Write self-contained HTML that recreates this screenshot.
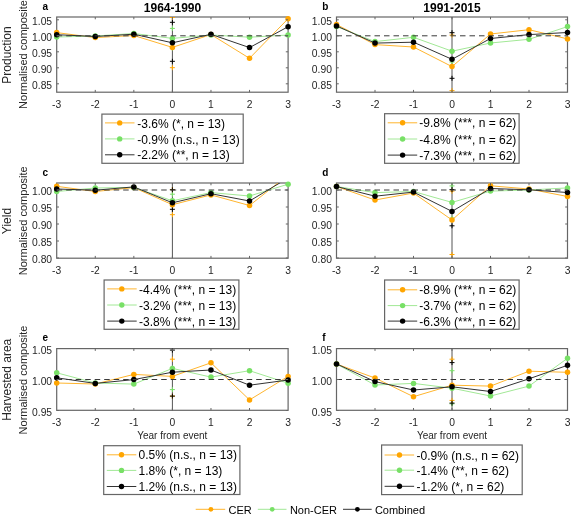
<!DOCTYPE html><html><head><meta charset="utf-8"><style>html,body{margin:0;padding:0;background:#fff;overflow:hidden;width:575px;height:518px;}svg{display:block;filter:blur(0.4px);}text{font-family:"Liberation Sans",sans-serif;}</style></head><body>
<svg width="575" height="518" viewBox="0 0 575 518">
<rect width="575" height="518" fill="#fff"/>
<defs>
<clipPath id="cpa"><rect x="56.7" y="17.0" width="231.40000000000003" height="75.2"/></clipPath>
<clipPath id="cpb"><rect x="336.5" y="17.0" width="231.0" height="75.2"/></clipPath>
<clipPath id="cpc"><rect x="56.7" y="183.0" width="231.40000000000003" height="75.19999999999999"/></clipPath>
<clipPath id="cpd"><rect x="336.5" y="183.0" width="231.0" height="75.19999999999999"/></clipPath>
<clipPath id="cpe"><rect x="56.7" y="348.6" width="231.40000000000003" height="61.69999999999999"/></clipPath>
<clipPath id="cpf"><rect x="336.5" y="348.6" width="231.0" height="61.69999999999999"/></clipPath>
</defs>
<rect x="56.7" y="17.0" width="231.40000000000003" height="75.2" fill="none" stroke="#666" stroke-width="1.2"/>
<line x1="172.4" y1="17.0" x2="172.4" y2="92.2" stroke="#555" stroke-width="1"/>
<g clip-path="url(#cpa)">
<path d="M169.9 28.4h5M172.4 25.9v5" stroke="#78E066" stroke-width="1"/>
<path d="M169.9 48.0h5M172.4 45.5v5" stroke="#78E066" stroke-width="1"/>
<path d="M169.9 17.4h5M172.4 14.899999999999999v5" stroke="#FFA500" stroke-width="1"/>
<path d="M169.9 67.7h5M172.4 65.2v5" stroke="#FFA500" stroke-width="1"/>
<path d="M169.9 22.3h5M172.4 19.8v5" stroke="#000" stroke-width="1"/>
<path d="M169.9 61.3h5M172.4 58.8v5" stroke="#000" stroke-width="1"/>
</g>
<polyline clip-path="url(#cpa)" points="56.70,32.60 95.27,37.60 133.83,35.50 172.40,47.40 210.97,34.50 249.53,58.30 288.10,18.70" fill="none" stroke="#FFB52E" stroke-width="1"/>
<circle cx="56.70" cy="32.60" r="2.75" fill="#FFA500"/>
<circle cx="95.27" cy="37.60" r="2.75" fill="#FFA500"/>
<circle cx="133.83" cy="35.50" r="2.75" fill="#FFA500"/>
<circle cx="172.40" cy="47.40" r="2.75" fill="#FFA500"/>
<circle cx="210.97" cy="34.50" r="2.75" fill="#FFA500"/>
<circle cx="249.53" cy="58.30" r="2.75" fill="#FFA500"/>
<circle cx="288.10" cy="18.70" r="2.75" fill="#FFA500"/>
<polyline clip-path="url(#cpa)" points="56.70,37.00 95.27,36.00 133.83,33.50 172.40,38.40 210.97,35.00 249.53,37.20 288.10,35.00" fill="none" stroke="#A2E896" stroke-width="1"/>
<circle cx="56.70" cy="37.00" r="2.75" fill="#78E066"/>
<circle cx="95.27" cy="36.00" r="2.75" fill="#78E066"/>
<circle cx="133.83" cy="33.50" r="2.75" fill="#78E066"/>
<circle cx="172.40" cy="38.40" r="2.75" fill="#78E066"/>
<circle cx="210.97" cy="35.00" r="2.75" fill="#78E066"/>
<circle cx="249.53" cy="37.20" r="2.75" fill="#78E066"/>
<circle cx="288.10" cy="35.00" r="2.75" fill="#78E066"/>
<polyline clip-path="url(#cpa)" points="56.70,34.70 95.27,36.50 133.83,34.20 172.40,42.80 210.97,34.30 249.53,47.60 288.10,26.70" fill="none" stroke="#333" stroke-width="1"/>
<circle cx="56.70" cy="34.70" r="2.75" fill="#000"/>
<circle cx="95.27" cy="36.50" r="2.75" fill="#000"/>
<circle cx="133.83" cy="34.20" r="2.75" fill="#000"/>
<circle cx="172.40" cy="42.80" r="2.75" fill="#000"/>
<circle cx="210.97" cy="34.30" r="2.75" fill="#000"/>
<circle cx="249.53" cy="47.60" r="2.75" fill="#000"/>
<circle cx="288.10" cy="26.70" r="2.75" fill="#000"/>
<line x1="56.7" y1="35.8" x2="288.1" y2="35.8" stroke="#3a3a3a" stroke-width="1" stroke-dasharray="5.5,4"/>
<path d="M95.27 92.2v-2.3M95.27 17.0v2.3" stroke="#666" stroke-width="1"/>
<path d="M133.83 92.2v-2.3M133.83 17.0v2.3" stroke="#666" stroke-width="1"/>
<path d="M172.40 92.2v-2.3M172.40 17.0v2.3" stroke="#666" stroke-width="1"/>
<path d="M210.97 92.2v-2.3M210.97 17.0v2.3" stroke="#666" stroke-width="1"/>
<path d="M249.53 92.2v-2.3M249.53 17.0v2.3" stroke="#666" stroke-width="1"/>
<path d="M56.7 19.80h2.3M288.1 19.80h-2.3" stroke="#666" stroke-width="1"/>
<text x="52.1" y="25.00" font-size="10.3" text-anchor="end" fill="#262626">1.05</text>
<path d="M56.7 35.80h2.3M288.1 35.80h-2.3" stroke="#666" stroke-width="1"/>
<text x="52.1" y="41.00" font-size="10.3" text-anchor="end" fill="#262626">1.00</text>
<path d="M56.7 51.80h2.3M288.1 51.80h-2.3" stroke="#666" stroke-width="1"/>
<text x="52.1" y="57.00" font-size="10.3" text-anchor="end" fill="#262626">0.95</text>
<path d="M56.7 67.80h2.3M288.1 67.80h-2.3" stroke="#666" stroke-width="1"/>
<text x="52.1" y="73.00" font-size="10.3" text-anchor="end" fill="#262626">0.90</text>
<path d="M56.7 83.80h2.3M288.1 83.80h-2.3" stroke="#666" stroke-width="1"/>
<text x="52.1" y="89.00" font-size="10.3" text-anchor="end" fill="#262626">0.85</text>
<text x="56.70" y="107.50" font-size="10.3" text-anchor="middle" fill="#262626">-3</text>
<text x="95.27" y="107.50" font-size="10.3" text-anchor="middle" fill="#262626">-2</text>
<text x="133.83" y="107.50" font-size="10.3" text-anchor="middle" fill="#262626">-1</text>
<text x="172.40" y="107.50" font-size="10.3" text-anchor="middle" fill="#262626">0</text>
<text x="210.97" y="107.50" font-size="10.3" text-anchor="middle" fill="#262626">1</text>
<text x="249.53" y="107.50" font-size="10.3" text-anchor="middle" fill="#262626">2</text>
<text x="288.10" y="107.50" font-size="10.3" text-anchor="middle" fill="#262626">3</text>
<text x="42.5" y="9.6" font-size="10" font-weight="bold" fill="#000">a</text>
<rect x="336.5" y="17.0" width="231.0" height="75.2" fill="none" stroke="#666" stroke-width="1.2"/>
<line x1="452.0" y1="17.0" x2="452.0" y2="92.2" stroke="#555" stroke-width="1"/>
<g clip-path="url(#cpb)">
<path d="M449.5 51.2h5M452.0 48.7v5" stroke="#78E066" stroke-width="1"/>
<path d="M449.5 62.0h5M452.0 59.5v5" stroke="#78E066" stroke-width="1"/>
<path d="M449.5 35.1h5M452.0 32.6v5" stroke="#FFA500" stroke-width="1"/>
<path d="M449.5 90.6h5M452.0 88.1v5" stroke="#FFA500" stroke-width="1"/>
<path d="M449.5 32.7h5M452.0 30.200000000000003v5" stroke="#000" stroke-width="1"/>
<path d="M449.5 78.3h5M452.0 75.8v5" stroke="#000" stroke-width="1"/>
</g>
<polyline clip-path="url(#cpb)" points="336.50,24.50 375.00,44.60 413.50,47.00 452.00,66.60 490.50,34.00 529.00,29.70 567.50,38.90" fill="none" stroke="#FFB52E" stroke-width="1"/>
<circle cx="336.50" cy="24.50" r="2.75" fill="#FFA500"/>
<circle cx="375.00" cy="44.60" r="2.75" fill="#FFA500"/>
<circle cx="413.50" cy="47.00" r="2.75" fill="#FFA500"/>
<circle cx="452.00" cy="66.60" r="2.75" fill="#FFA500"/>
<circle cx="490.50" cy="34.00" r="2.75" fill="#FFA500"/>
<circle cx="529.00" cy="29.70" r="2.75" fill="#FFA500"/>
<circle cx="567.50" cy="38.90" r="2.75" fill="#FFA500"/>
<polyline clip-path="url(#cpb)" points="336.50,26.50 375.00,41.60 413.50,37.30 452.00,51.20 490.50,43.00 529.00,39.30 567.50,26.60" fill="none" stroke="#A2E896" stroke-width="1"/>
<circle cx="336.50" cy="26.50" r="2.75" fill="#78E066"/>
<circle cx="375.00" cy="41.60" r="2.75" fill="#78E066"/>
<circle cx="413.50" cy="37.30" r="2.75" fill="#78E066"/>
<circle cx="452.00" cy="51.20" r="2.75" fill="#78E066"/>
<circle cx="490.50" cy="43.00" r="2.75" fill="#78E066"/>
<circle cx="529.00" cy="39.30" r="2.75" fill="#78E066"/>
<circle cx="567.50" cy="26.60" r="2.75" fill="#78E066"/>
<polyline clip-path="url(#cpb)" points="336.50,25.90 375.00,43.10 413.50,42.20 452.00,59.30 490.50,38.50 529.00,34.60 567.50,32.50" fill="none" stroke="#333" stroke-width="1"/>
<circle cx="336.50" cy="25.90" r="2.75" fill="#000"/>
<circle cx="375.00" cy="43.10" r="2.75" fill="#000"/>
<circle cx="413.50" cy="42.20" r="2.75" fill="#000"/>
<circle cx="452.00" cy="59.30" r="2.75" fill="#000"/>
<circle cx="490.50" cy="38.50" r="2.75" fill="#000"/>
<circle cx="529.00" cy="34.60" r="2.75" fill="#000"/>
<circle cx="567.50" cy="32.50" r="2.75" fill="#000"/>
<line x1="336.5" y1="35.8" x2="567.5" y2="35.8" stroke="#3a3a3a" stroke-width="1" stroke-dasharray="5.5,4"/>
<path d="M375.00 92.2v-2.3M375.00 17.0v2.3" stroke="#666" stroke-width="1"/>
<path d="M413.50 92.2v-2.3M413.50 17.0v2.3" stroke="#666" stroke-width="1"/>
<path d="M452.00 92.2v-2.3M452.00 17.0v2.3" stroke="#666" stroke-width="1"/>
<path d="M490.50 92.2v-2.3M490.50 17.0v2.3" stroke="#666" stroke-width="1"/>
<path d="M529.00 92.2v-2.3M529.00 17.0v2.3" stroke="#666" stroke-width="1"/>
<path d="M336.5 19.80h2.3M567.5 19.80h-2.3" stroke="#666" stroke-width="1"/>
<text x="331.9" y="25.00" font-size="10.3" text-anchor="end" fill="#262626">1.05</text>
<path d="M336.5 35.80h2.3M567.5 35.80h-2.3" stroke="#666" stroke-width="1"/>
<text x="331.9" y="41.00" font-size="10.3" text-anchor="end" fill="#262626">1.00</text>
<path d="M336.5 51.80h2.3M567.5 51.80h-2.3" stroke="#666" stroke-width="1"/>
<text x="331.9" y="57.00" font-size="10.3" text-anchor="end" fill="#262626">0.95</text>
<path d="M336.5 67.80h2.3M567.5 67.80h-2.3" stroke="#666" stroke-width="1"/>
<text x="331.9" y="73.00" font-size="10.3" text-anchor="end" fill="#262626">0.90</text>
<path d="M336.5 83.80h2.3M567.5 83.80h-2.3" stroke="#666" stroke-width="1"/>
<text x="331.9" y="89.00" font-size="10.3" text-anchor="end" fill="#262626">0.85</text>
<text x="336.50" y="107.50" font-size="10.3" text-anchor="middle" fill="#262626">-3</text>
<text x="375.00" y="107.50" font-size="10.3" text-anchor="middle" fill="#262626">-2</text>
<text x="413.50" y="107.50" font-size="10.3" text-anchor="middle" fill="#262626">-1</text>
<text x="452.00" y="107.50" font-size="10.3" text-anchor="middle" fill="#262626">0</text>
<text x="490.50" y="107.50" font-size="10.3" text-anchor="middle" fill="#262626">1</text>
<text x="529.00" y="107.50" font-size="10.3" text-anchor="middle" fill="#262626">2</text>
<text x="567.50" y="107.50" font-size="10.3" text-anchor="middle" fill="#262626">3</text>
<text x="322.3" y="9.6" font-size="10" font-weight="bold" fill="#000">b</text>
<rect x="56.7" y="183.0" width="231.40000000000003" height="75.19999999999999" fill="none" stroke="#666" stroke-width="1.2"/>
<line x1="172.4" y1="183.0" x2="172.4" y2="258.2" stroke="#555" stroke-width="1"/>
<g clip-path="url(#cpc)">
<path d="M169.9 194.2h5M172.4 191.7v5" stroke="#78E066" stroke-width="1"/>
<path d="M169.9 203.0h5M172.4 200.5v5" stroke="#78E066" stroke-width="1"/>
<path d="M169.9 189.6h5M172.4 187.1v5" stroke="#FFA500" stroke-width="1"/>
<path d="M169.9 214.7h5M172.4 212.2v5" stroke="#FFA500" stroke-width="1"/>
<path d="M169.9 189.8h5M172.4 187.3v5" stroke="#000" stroke-width="1"/>
<path d="M169.9 209.3h5M172.4 206.8v5" stroke="#000" stroke-width="1"/>
</g>
<polyline clip-path="url(#cpc)" points="56.70,186.30 95.27,191.50 133.83,187.60 172.40,204.70 210.97,194.90 249.53,205.50 288.10,175.00" fill="none" stroke="#FFB52E" stroke-width="1"/>
<circle cx="56.70" cy="186.30" r="2.75" fill="#FFA500"/>
<circle cx="95.27" cy="191.50" r="2.75" fill="#FFA500"/>
<circle cx="133.83" cy="187.60" r="2.75" fill="#FFA500"/>
<circle cx="172.40" cy="204.70" r="2.75" fill="#FFA500"/>
<circle cx="210.97" cy="194.90" r="2.75" fill="#FFA500"/>
<circle cx="249.53" cy="205.50" r="2.75" fill="#FFA500"/>
<polyline clip-path="url(#cpc)" points="56.70,191.50 95.27,188.00 133.83,187.40 172.40,200.80 210.97,192.60 249.53,196.00 288.10,184.20" fill="none" stroke="#A2E896" stroke-width="1"/>
<circle cx="56.70" cy="191.50" r="2.75" fill="#78E066"/>
<circle cx="95.27" cy="188.00" r="2.75" fill="#78E066"/>
<circle cx="133.83" cy="187.40" r="2.75" fill="#78E066"/>
<circle cx="172.40" cy="200.80" r="2.75" fill="#78E066"/>
<circle cx="210.97" cy="192.60" r="2.75" fill="#78E066"/>
<circle cx="249.53" cy="196.00" r="2.75" fill="#78E066"/>
<circle cx="288.10" cy="184.20" r="2.75" fill="#78E066"/>
<polyline clip-path="url(#cpc)" points="56.70,189.00 95.27,190.20 133.83,186.90 172.40,202.80 210.97,193.70 249.53,201.00 288.10,178.00" fill="none" stroke="#333" stroke-width="1"/>
<circle cx="56.70" cy="189.00" r="2.75" fill="#000"/>
<circle cx="95.27" cy="190.20" r="2.75" fill="#000"/>
<circle cx="133.83" cy="186.90" r="2.75" fill="#000"/>
<circle cx="172.40" cy="202.80" r="2.75" fill="#000"/>
<circle cx="210.97" cy="193.70" r="2.75" fill="#000"/>
<circle cx="249.53" cy="201.00" r="2.75" fill="#000"/>
<line x1="56.7" y1="190.0" x2="288.1" y2="190.0" stroke="#3a3a3a" stroke-width="1" stroke-dasharray="5.5,4"/>
<path d="M95.27 258.2v-2.3M95.27 183.0v2.3" stroke="#666" stroke-width="1"/>
<path d="M133.83 258.2v-2.3M133.83 183.0v2.3" stroke="#666" stroke-width="1"/>
<path d="M172.40 258.2v-2.3M172.40 183.0v2.3" stroke="#666" stroke-width="1"/>
<path d="M210.97 258.2v-2.3M210.97 183.0v2.3" stroke="#666" stroke-width="1"/>
<path d="M249.53 258.2v-2.3M249.53 183.0v2.3" stroke="#666" stroke-width="1"/>
<path d="M56.7 190.00h2.3M288.1 190.00h-2.3" stroke="#666" stroke-width="1"/>
<text x="52.1" y="195.20" font-size="10.3" text-anchor="end" fill="#262626">1.00</text>
<path d="M56.7 207.00h2.3M288.1 207.00h-2.3" stroke="#666" stroke-width="1"/>
<text x="52.1" y="212.20" font-size="10.3" text-anchor="end" fill="#262626">0.95</text>
<path d="M56.7 224.00h2.3M288.1 224.00h-2.3" stroke="#666" stroke-width="1"/>
<text x="52.1" y="229.20" font-size="10.3" text-anchor="end" fill="#262626">0.90</text>
<path d="M56.7 241.00h2.3M288.1 241.00h-2.3" stroke="#666" stroke-width="1"/>
<text x="52.1" y="246.20" font-size="10.3" text-anchor="end" fill="#262626">0.85</text>
<path d="M56.7 258.00h2.3M288.1 258.00h-2.3" stroke="#666" stroke-width="1"/>
<text x="52.1" y="263.20" font-size="10.3" text-anchor="end" fill="#262626">0.80</text>
<text x="56.70" y="273.50" font-size="10.3" text-anchor="middle" fill="#262626">-3</text>
<text x="95.27" y="273.50" font-size="10.3" text-anchor="middle" fill="#262626">-2</text>
<text x="133.83" y="273.50" font-size="10.3" text-anchor="middle" fill="#262626">-1</text>
<text x="172.40" y="273.50" font-size="10.3" text-anchor="middle" fill="#262626">0</text>
<text x="210.97" y="273.50" font-size="10.3" text-anchor="middle" fill="#262626">1</text>
<text x="249.53" y="273.50" font-size="10.3" text-anchor="middle" fill="#262626">2</text>
<text x="288.10" y="273.50" font-size="10.3" text-anchor="middle" fill="#262626">3</text>
<text x="42.5" y="175.6" font-size="10" font-weight="bold" fill="#000">c</text>
<rect x="336.5" y="183.0" width="231.0" height="75.19999999999999" fill="none" stroke="#666" stroke-width="1.2"/>
<line x1="452.0" y1="183.0" x2="452.0" y2="258.2" stroke="#555" stroke-width="1"/>
<g clip-path="url(#cpd)">
<path d="M449.5 185.9h5M452.0 183.4v5" stroke="#78E066" stroke-width="1"/>
<path d="M449.5 218.0h5M452.0 215.5v5" stroke="#78E066" stroke-width="1"/>
<path d="M449.5 191.1h5M452.0 188.6v5" stroke="#FFA500" stroke-width="1"/>
<path d="M449.5 254.5h5M452.0 252.0v5" stroke="#FFA500" stroke-width="1"/>
<path d="M449.5 189.6h5M452.0 187.1v5" stroke="#000" stroke-width="1"/>
<path d="M449.5 225.8h5M452.0 223.3v5" stroke="#000" stroke-width="1"/>
</g>
<polyline clip-path="url(#cpd)" points="336.50,186.50 375.00,200.00 413.50,193.00 452.00,220.00 490.50,185.80 529.00,189.00 567.50,196.50" fill="none" stroke="#FFB52E" stroke-width="1"/>
<circle cx="336.50" cy="186.50" r="2.75" fill="#FFA500"/>
<circle cx="375.00" cy="200.00" r="2.75" fill="#FFA500"/>
<circle cx="413.50" cy="193.00" r="2.75" fill="#FFA500"/>
<circle cx="452.00" cy="220.00" r="2.75" fill="#FFA500"/>
<circle cx="490.50" cy="185.80" r="2.75" fill="#FFA500"/>
<circle cx="529.00" cy="189.00" r="2.75" fill="#FFA500"/>
<circle cx="567.50" cy="196.50" r="2.75" fill="#FFA500"/>
<polyline clip-path="url(#cpd)" points="336.50,186.50 375.00,192.60 413.50,191.50 452.00,202.40 490.50,191.10 529.00,190.00 567.50,187.90" fill="none" stroke="#A2E896" stroke-width="1"/>
<circle cx="336.50" cy="186.50" r="2.75" fill="#78E066"/>
<circle cx="375.00" cy="192.60" r="2.75" fill="#78E066"/>
<circle cx="413.50" cy="191.50" r="2.75" fill="#78E066"/>
<circle cx="452.00" cy="202.40" r="2.75" fill="#78E066"/>
<circle cx="490.50" cy="191.10" r="2.75" fill="#78E066"/>
<circle cx="529.00" cy="190.00" r="2.75" fill="#78E066"/>
<circle cx="567.50" cy="187.90" r="2.75" fill="#78E066"/>
<polyline clip-path="url(#cpd)" points="336.50,186.50 375.00,196.20 413.50,192.10 452.00,211.40 490.50,188.50 529.00,189.80 567.50,192.50" fill="none" stroke="#333" stroke-width="1"/>
<circle cx="336.50" cy="186.50" r="2.75" fill="#000"/>
<circle cx="375.00" cy="196.20" r="2.75" fill="#000"/>
<circle cx="413.50" cy="192.10" r="2.75" fill="#000"/>
<circle cx="452.00" cy="211.40" r="2.75" fill="#000"/>
<circle cx="490.50" cy="188.50" r="2.75" fill="#000"/>
<circle cx="529.00" cy="189.80" r="2.75" fill="#000"/>
<circle cx="567.50" cy="192.50" r="2.75" fill="#000"/>
<line x1="336.5" y1="190.0" x2="567.5" y2="190.0" stroke="#3a3a3a" stroke-width="1" stroke-dasharray="5.5,4"/>
<path d="M375.00 258.2v-2.3M375.00 183.0v2.3" stroke="#666" stroke-width="1"/>
<path d="M413.50 258.2v-2.3M413.50 183.0v2.3" stroke="#666" stroke-width="1"/>
<path d="M452.00 258.2v-2.3M452.00 183.0v2.3" stroke="#666" stroke-width="1"/>
<path d="M490.50 258.2v-2.3M490.50 183.0v2.3" stroke="#666" stroke-width="1"/>
<path d="M529.00 258.2v-2.3M529.00 183.0v2.3" stroke="#666" stroke-width="1"/>
<path d="M336.5 190.00h2.3M567.5 190.00h-2.3" stroke="#666" stroke-width="1"/>
<text x="331.9" y="195.20" font-size="10.3" text-anchor="end" fill="#262626">1.00</text>
<path d="M336.5 207.00h2.3M567.5 207.00h-2.3" stroke="#666" stroke-width="1"/>
<text x="331.9" y="212.20" font-size="10.3" text-anchor="end" fill="#262626">0.95</text>
<path d="M336.5 224.00h2.3M567.5 224.00h-2.3" stroke="#666" stroke-width="1"/>
<text x="331.9" y="229.20" font-size="10.3" text-anchor="end" fill="#262626">0.90</text>
<path d="M336.5 241.00h2.3M567.5 241.00h-2.3" stroke="#666" stroke-width="1"/>
<text x="331.9" y="246.20" font-size="10.3" text-anchor="end" fill="#262626">0.85</text>
<path d="M336.5 258.00h2.3M567.5 258.00h-2.3" stroke="#666" stroke-width="1"/>
<text x="331.9" y="263.20" font-size="10.3" text-anchor="end" fill="#262626">0.80</text>
<text x="336.50" y="273.50" font-size="10.3" text-anchor="middle" fill="#262626">-3</text>
<text x="375.00" y="273.50" font-size="10.3" text-anchor="middle" fill="#262626">-2</text>
<text x="413.50" y="273.50" font-size="10.3" text-anchor="middle" fill="#262626">-1</text>
<text x="452.00" y="273.50" font-size="10.3" text-anchor="middle" fill="#262626">0</text>
<text x="490.50" y="273.50" font-size="10.3" text-anchor="middle" fill="#262626">1</text>
<text x="529.00" y="273.50" font-size="10.3" text-anchor="middle" fill="#262626">2</text>
<text x="567.50" y="273.50" font-size="10.3" text-anchor="middle" fill="#262626">3</text>
<text x="322.3" y="175.6" font-size="10" font-weight="bold" fill="#000">d</text>
<rect x="56.7" y="348.6" width="231.40000000000003" height="61.69999999999999" fill="none" stroke="#666" stroke-width="1.2"/>
<line x1="172.4" y1="348.6" x2="172.4" y2="410.3" stroke="#555" stroke-width="1"/>
<g clip-path="url(#cpe)">
<path d="M169.9 368.0h5M172.4 365.5v5" stroke="#78E066" stroke-width="1"/>
<path d="M169.9 389.6h5M172.4 387.1v5" stroke="#78E066" stroke-width="1"/>
<path d="M169.9 359.2h5M172.4 356.7v5" stroke="#FFA500" stroke-width="1"/>
<path d="M169.9 396.1h5M172.4 393.6v5" stroke="#FFA500" stroke-width="1"/>
<path d="M169.9 350.1h5M172.4 347.6v5" stroke="#000" stroke-width="1"/>
<path d="M169.9 396.1h5M172.4 393.6v5" stroke="#000" stroke-width="1"/>
</g>
<polyline clip-path="url(#cpe)" points="56.70,383.00 95.27,384.00 133.83,374.40 172.40,376.40 210.97,362.80 249.53,399.90 288.10,376.40" fill="none" stroke="#FFB52E" stroke-width="1"/>
<circle cx="56.70" cy="383.00" r="2.75" fill="#FFA500"/>
<circle cx="95.27" cy="384.00" r="2.75" fill="#FFA500"/>
<circle cx="133.83" cy="374.40" r="2.75" fill="#FFA500"/>
<circle cx="172.40" cy="376.40" r="2.75" fill="#FFA500"/>
<circle cx="210.97" cy="362.80" r="2.75" fill="#FFA500"/>
<circle cx="249.53" cy="399.90" r="2.75" fill="#FFA500"/>
<circle cx="288.10" cy="376.40" r="2.75" fill="#FFA500"/>
<polyline clip-path="url(#cpe)" points="56.70,372.80 95.27,383.00 133.83,384.10 172.40,368.40 210.97,377.10 249.53,370.70 288.10,383.20" fill="none" stroke="#A2E896" stroke-width="1"/>
<circle cx="56.70" cy="372.80" r="2.75" fill="#78E066"/>
<circle cx="95.27" cy="383.00" r="2.75" fill="#78E066"/>
<circle cx="133.83" cy="384.10" r="2.75" fill="#78E066"/>
<circle cx="172.40" cy="368.40" r="2.75" fill="#78E066"/>
<circle cx="210.97" cy="377.10" r="2.75" fill="#78E066"/>
<circle cx="249.53" cy="370.70" r="2.75" fill="#78E066"/>
<circle cx="288.10" cy="383.20" r="2.75" fill="#78E066"/>
<polyline clip-path="url(#cpe)" points="56.70,377.80 95.27,383.40 133.83,379.60 172.40,372.20 210.97,370.00 249.53,385.20 288.10,380.00" fill="none" stroke="#333" stroke-width="1"/>
<circle cx="56.70" cy="377.80" r="2.75" fill="#000"/>
<circle cx="95.27" cy="383.40" r="2.75" fill="#000"/>
<circle cx="133.83" cy="379.60" r="2.75" fill="#000"/>
<circle cx="172.40" cy="372.20" r="2.75" fill="#000"/>
<circle cx="210.97" cy="370.00" r="2.75" fill="#000"/>
<circle cx="249.53" cy="385.20" r="2.75" fill="#000"/>
<circle cx="288.10" cy="380.00" r="2.75" fill="#000"/>
<line x1="56.7" y1="379.5" x2="288.1" y2="379.5" stroke="#3a3a3a" stroke-width="1" stroke-dasharray="5.5,4"/>
<path d="M95.27 410.3v-2.3M95.27 348.6v2.3" stroke="#666" stroke-width="1"/>
<path d="M133.83 410.3v-2.3M133.83 348.6v2.3" stroke="#666" stroke-width="1"/>
<path d="M172.40 410.3v-2.3M172.40 348.6v2.3" stroke="#666" stroke-width="1"/>
<path d="M210.97 410.3v-2.3M210.97 348.6v2.3" stroke="#666" stroke-width="1"/>
<path d="M249.53 410.3v-2.3M249.53 348.6v2.3" stroke="#666" stroke-width="1"/>
<path d="M56.7 348.50h2.3M288.1 348.50h-2.3" stroke="#666" stroke-width="1"/>
<text x="52.1" y="353.70" font-size="10.3" text-anchor="end" fill="#262626">1.05</text>
<path d="M56.7 379.50h2.3M288.1 379.50h-2.3" stroke="#666" stroke-width="1"/>
<text x="52.1" y="384.70" font-size="10.3" text-anchor="end" fill="#262626">1.00</text>
<path d="M56.7 410.50h2.3M288.1 410.50h-2.3" stroke="#666" stroke-width="1"/>
<text x="52.1" y="415.70" font-size="10.3" text-anchor="end" fill="#262626">0.95</text>
<text x="56.70" y="425.60" font-size="10.3" text-anchor="middle" fill="#262626">-3</text>
<text x="95.27" y="425.60" font-size="10.3" text-anchor="middle" fill="#262626">-2</text>
<text x="133.83" y="425.60" font-size="10.3" text-anchor="middle" fill="#262626">-1</text>
<text x="172.40" y="425.60" font-size="10.3" text-anchor="middle" fill="#262626">0</text>
<text x="210.97" y="425.60" font-size="10.3" text-anchor="middle" fill="#262626">1</text>
<text x="249.53" y="425.60" font-size="10.3" text-anchor="middle" fill="#262626">2</text>
<text x="288.10" y="425.60" font-size="10.3" text-anchor="middle" fill="#262626">3</text>
<text x="42.5" y="341.20000000000005" font-size="10" font-weight="bold" fill="#000">e</text>
<rect x="336.5" y="348.6" width="231.0" height="61.69999999999999" fill="none" stroke="#666" stroke-width="1.2"/>
<line x1="452.0" y1="348.6" x2="452.0" y2="410.3" stroke="#555" stroke-width="1"/>
<g clip-path="url(#cpf)">
<path d="M449.5 370.7h5M452.0 368.2v5" stroke="#78E066" stroke-width="1"/>
<path d="M449.5 403.8h5M452.0 401.3v5" stroke="#78E066" stroke-width="1"/>
<path d="M449.5 359.2h5M452.0 356.7v5" stroke="#FFA500" stroke-width="1"/>
<path d="M449.5 400.4h5M452.0 397.9v5" stroke="#FFA500" stroke-width="1"/>
<path d="M449.5 362.6h5M452.0 360.1v5" stroke="#000" stroke-width="1"/>
<path d="M449.5 403.1h5M452.0 400.6v5" stroke="#000" stroke-width="1"/>
</g>
<polyline clip-path="url(#cpf)" points="336.50,364.00 375.00,378.00 413.50,396.70 452.00,385.20 490.50,386.10 529.00,371.20 567.50,372.30" fill="none" stroke="#FFB52E" stroke-width="1"/>
<circle cx="336.50" cy="364.00" r="2.75" fill="#FFA500"/>
<circle cx="375.00" cy="378.00" r="2.75" fill="#FFA500"/>
<circle cx="413.50" cy="396.70" r="2.75" fill="#FFA500"/>
<circle cx="452.00" cy="385.20" r="2.75" fill="#FFA500"/>
<circle cx="490.50" cy="386.10" r="2.75" fill="#FFA500"/>
<circle cx="529.00" cy="371.20" r="2.75" fill="#FFA500"/>
<circle cx="567.50" cy="372.30" r="2.75" fill="#FFA500"/>
<polyline clip-path="url(#cpf)" points="336.50,364.00 375.00,385.00 413.50,383.40 452.00,388.20 490.50,396.00 529.00,386.10 567.50,358.30" fill="none" stroke="#A2E896" stroke-width="1"/>
<circle cx="336.50" cy="364.00" r="2.75" fill="#78E066"/>
<circle cx="375.00" cy="385.00" r="2.75" fill="#78E066"/>
<circle cx="413.50" cy="383.40" r="2.75" fill="#78E066"/>
<circle cx="452.00" cy="388.20" r="2.75" fill="#78E066"/>
<circle cx="490.50" cy="396.00" r="2.75" fill="#78E066"/>
<circle cx="529.00" cy="386.10" r="2.75" fill="#78E066"/>
<circle cx="567.50" cy="358.30" r="2.75" fill="#78E066"/>
<polyline clip-path="url(#cpf)" points="336.50,363.90 375.00,381.60 413.50,390.00 452.00,386.80 490.50,391.50 529.00,378.80 567.50,365.30" fill="none" stroke="#333" stroke-width="1"/>
<circle cx="336.50" cy="363.90" r="2.75" fill="#000"/>
<circle cx="375.00" cy="381.60" r="2.75" fill="#000"/>
<circle cx="413.50" cy="390.00" r="2.75" fill="#000"/>
<circle cx="452.00" cy="386.80" r="2.75" fill="#000"/>
<circle cx="490.50" cy="391.50" r="2.75" fill="#000"/>
<circle cx="529.00" cy="378.80" r="2.75" fill="#000"/>
<circle cx="567.50" cy="365.30" r="2.75" fill="#000"/>
<line x1="336.5" y1="379.5" x2="567.5" y2="379.5" stroke="#3a3a3a" stroke-width="1" stroke-dasharray="5.5,4"/>
<path d="M375.00 410.3v-2.3M375.00 348.6v2.3" stroke="#666" stroke-width="1"/>
<path d="M413.50 410.3v-2.3M413.50 348.6v2.3" stroke="#666" stroke-width="1"/>
<path d="M452.00 410.3v-2.3M452.00 348.6v2.3" stroke="#666" stroke-width="1"/>
<path d="M490.50 410.3v-2.3M490.50 348.6v2.3" stroke="#666" stroke-width="1"/>
<path d="M529.00 410.3v-2.3M529.00 348.6v2.3" stroke="#666" stroke-width="1"/>
<path d="M336.5 348.50h2.3M567.5 348.50h-2.3" stroke="#666" stroke-width="1"/>
<text x="331.9" y="353.70" font-size="10.3" text-anchor="end" fill="#262626">1.05</text>
<path d="M336.5 379.50h2.3M567.5 379.50h-2.3" stroke="#666" stroke-width="1"/>
<text x="331.9" y="384.70" font-size="10.3" text-anchor="end" fill="#262626">1.00</text>
<path d="M336.5 410.50h2.3M567.5 410.50h-2.3" stroke="#666" stroke-width="1"/>
<text x="331.9" y="415.70" font-size="10.3" text-anchor="end" fill="#262626">0.95</text>
<text x="336.50" y="425.60" font-size="10.3" text-anchor="middle" fill="#262626">-3</text>
<text x="375.00" y="425.60" font-size="10.3" text-anchor="middle" fill="#262626">-2</text>
<text x="413.50" y="425.60" font-size="10.3" text-anchor="middle" fill="#262626">-1</text>
<text x="452.00" y="425.60" font-size="10.3" text-anchor="middle" fill="#262626">0</text>
<text x="490.50" y="425.60" font-size="10.3" text-anchor="middle" fill="#262626">1</text>
<text x="529.00" y="425.60" font-size="10.3" text-anchor="middle" fill="#262626">2</text>
<text x="567.50" y="425.60" font-size="10.3" text-anchor="middle" fill="#262626">3</text>
<text x="322.3" y="341.20000000000005" font-size="10" font-weight="bold" fill="#000">f</text>
<text x="172.5" y="12.0" font-size="12" font-weight="bold" text-anchor="middle" fill="#000">1964-1990</text>
<text x="452" y="12.0" font-size="12" font-weight="bold" text-anchor="middle" fill="#000">1991-2015</text>
<text transform="translate(11.2,55.0) rotate(-90)" font-size="12" text-anchor="middle" fill="#262626">Production</text>
<text transform="translate(11.2,221.0) rotate(-90)" font-size="12" text-anchor="middle" fill="#262626">Yield</text>
<text transform="translate(11.2,379.8) rotate(-90)" font-size="12" text-anchor="middle" fill="#262626">Harvested area</text>
<text transform="translate(26.6,54.5) rotate(-90)" font-size="11" text-anchor="middle" fill="#262626">Normalised composite</text>
<text transform="translate(26.6,220.8) rotate(-90)" font-size="11" text-anchor="middle" fill="#262626">Normalised composite</text>
<text transform="translate(26.6,380.0) rotate(-90)" font-size="11" text-anchor="middle" fill="#262626">Normalised composite</text>
<text x="172.3" y="439.1" font-size="10" text-anchor="middle" fill="#262626">Year from event</text>
<text x="452" y="439.1" font-size="10" text-anchor="middle" fill="#262626">Year from event</text>
<rect x="101.9" y="114.1" width="141.29999999999998" height="49.20000000000002" fill="#fff" stroke="#666" stroke-width="1.2"/>
<line x1="105.0" y1="122.9" x2="134.5" y2="122.9" stroke="#FFB52E" stroke-width="1"/>
<circle cx="119.7" cy="122.9" r="2.7" fill="#FFA500"/>
<text x="137.3" y="127.50" font-size="12.0" fill="#000">-3.6% (*, n = 13)</text>
<line x1="105.0" y1="138.9" x2="134.5" y2="138.9" stroke="#A2E896" stroke-width="1"/>
<circle cx="119.7" cy="138.9" r="2.7" fill="#78E066"/>
<text x="137.3" y="143.50" font-size="12.0" fill="#000">-0.9% (n.s., n = 13)</text>
<line x1="105.0" y1="154.8" x2="134.5" y2="154.8" stroke="#333" stroke-width="1"/>
<circle cx="119.7" cy="154.8" r="2.7" fill="#000"/>
<text x="137.3" y="159.40" font-size="12.0" fill="#000">-2.2% (**, n = 13)</text>
<rect x="384.6" y="113.7" width="134.5" height="49.60000000000001" fill="#fff" stroke="#666" stroke-width="1.2"/>
<line x1="387.7" y1="122.8" x2="417.2" y2="122.8" stroke="#FFB52E" stroke-width="1"/>
<circle cx="402.6" cy="122.8" r="2.7" fill="#FFA500"/>
<text x="419.3" y="127.40" font-size="12.0" fill="#000">-9.8% (***, n = 62)</text>
<line x1="387.7" y1="139.0" x2="417.2" y2="139.0" stroke="#A2E896" stroke-width="1"/>
<circle cx="402.6" cy="139.0" r="2.7" fill="#78E066"/>
<text x="419.3" y="143.60" font-size="12.0" fill="#000">-4.8% (***, n = 62)</text>
<line x1="387.7" y1="155.1" x2="417.2" y2="155.1" stroke="#333" stroke-width="1"/>
<circle cx="402.6" cy="155.1" r="2.7" fill="#000"/>
<text x="419.3" y="159.70" font-size="12.0" fill="#000">-7.3% (***, n = 62)</text>
<rect x="104.1" y="280.0" width="134.8" height="49.30000000000001" fill="#fff" stroke="#666" stroke-width="1.2"/>
<line x1="107.2" y1="288.9" x2="136.7" y2="288.9" stroke="#FFB52E" stroke-width="1"/>
<circle cx="121.8" cy="288.9" r="2.7" fill="#FFA500"/>
<text x="139.1" y="293.50" font-size="12.0" fill="#000">-4.4% (***, n = 13)</text>
<line x1="107.2" y1="305.0" x2="136.7" y2="305.0" stroke="#A2E896" stroke-width="1"/>
<circle cx="121.8" cy="305.0" r="2.7" fill="#78E066"/>
<text x="139.1" y="309.60" font-size="12.0" fill="#000">-3.2% (***, n = 13)</text>
<line x1="107.2" y1="321.1" x2="136.7" y2="321.1" stroke="#333" stroke-width="1"/>
<circle cx="121.8" cy="321.1" r="2.7" fill="#000"/>
<text x="139.1" y="325.70" font-size="12.0" fill="#000">-3.8% (***, n = 13)</text>
<rect x="384.6" y="280.0" width="134.5" height="49.30000000000001" fill="#fff" stroke="#666" stroke-width="1.2"/>
<line x1="387.7" y1="289.8" x2="417.2" y2="289.8" stroke="#FFB52E" stroke-width="1"/>
<circle cx="402.6" cy="289.8" r="2.7" fill="#FFA500"/>
<text x="419.3" y="294.40" font-size="12.0" fill="#000">-8.9% (***, n = 62)</text>
<line x1="387.7" y1="305.6" x2="417.2" y2="305.6" stroke="#A2E896" stroke-width="1"/>
<circle cx="402.6" cy="305.6" r="2.7" fill="#78E066"/>
<text x="419.3" y="310.20" font-size="12.0" fill="#000">-3.7% (***, n = 62)</text>
<line x1="387.7" y1="321.1" x2="417.2" y2="321.1" stroke="#333" stroke-width="1"/>
<circle cx="402.6" cy="321.1" r="2.7" fill="#000"/>
<text x="419.3" y="325.70" font-size="12.0" fill="#000">-6.3% (***, n = 62)</text>
<rect x="103.7" y="445.7" width="136.2" height="48.80000000000001" fill="#fff" stroke="#666" stroke-width="1.2"/>
<line x1="106.8" y1="454.8" x2="136.3" y2="454.8" stroke="#FFB52E" stroke-width="1"/>
<circle cx="121.5" cy="454.8" r="2.7" fill="#FFA500"/>
<text x="138.6" y="459.40" font-size="12.0" fill="#000">0.5% (n.s., n = 13)</text>
<line x1="106.8" y1="470.4" x2="136.3" y2="470.4" stroke="#A2E896" stroke-width="1"/>
<circle cx="121.5" cy="470.4" r="2.7" fill="#78E066"/>
<text x="138.6" y="475.00" font-size="12.0" fill="#000">1.8% (*, n = 13)</text>
<line x1="106.8" y1="486.5" x2="136.3" y2="486.5" stroke="#333" stroke-width="1"/>
<circle cx="121.5" cy="486.5" r="2.7" fill="#000"/>
<text x="138.6" y="491.10" font-size="12.0" fill="#000">1.2% (n.s., n = 13)</text>
<rect x="381.6" y="445.0" width="140.60000000000002" height="49.60000000000002" fill="#fff" stroke="#666" stroke-width="1.2"/>
<line x1="384.6" y1="455.0" x2="414.1" y2="455.0" stroke="#FFB52E" stroke-width="1"/>
<circle cx="399.5" cy="455.0" r="2.7" fill="#FFA500"/>
<text x="416.6" y="459.60" font-size="12.0" fill="#000">-0.9% (n.s., n = 62)</text>
<line x1="384.6" y1="470.2" x2="414.1" y2="470.2" stroke="#A2E896" stroke-width="1"/>
<circle cx="399.5" cy="470.2" r="2.7" fill="#78E066"/>
<text x="416.6" y="474.80" font-size="12.0" fill="#000">-1.4% (**, n = 62)</text>
<line x1="384.6" y1="486.3" x2="414.1" y2="486.3" stroke="#333" stroke-width="1"/>
<circle cx="399.5" cy="486.3" r="2.7" fill="#000"/>
<text x="416.6" y="490.90" font-size="12.0" fill="#000">-1.2% (*, n = 62)</text>
<line x1="195.7" y1="509.3" x2="225.2" y2="509.3" stroke="#FFB52E" stroke-width="1"/>
<circle cx="210.9" cy="509.3" r="2.4" fill="#FFA500"/>
<text x="228.6" y="513.50" font-size="11" fill="#000">CER</text>
<line x1="257.8" y1="509.3" x2="286.5" y2="509.3" stroke="#A2E896" stroke-width="1"/>
<circle cx="272.2" cy="509.3" r="2.4" fill="#78E066"/>
<text x="289.9" y="513.50" font-size="11" fill="#000">Non-CER</text>
<line x1="343.0" y1="509.3" x2="371.7" y2="509.3" stroke="#333" stroke-width="1"/>
<circle cx="357.4" cy="509.3" r="2.4" fill="#000"/>
<text x="374.9" y="513.50" font-size="11" fill="#000">Combined</text>
</svg></body></html>
